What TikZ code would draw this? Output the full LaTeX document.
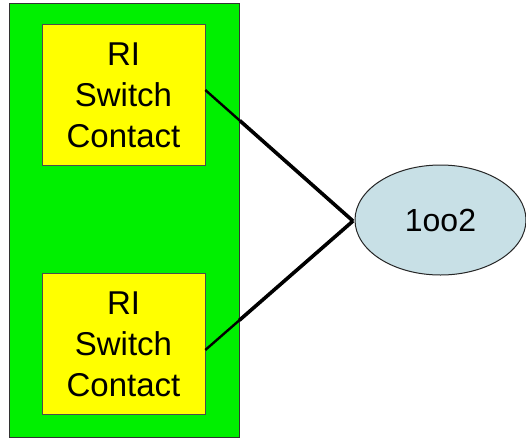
\documentclass[tikz,border=0pt]{standalone}
\usepackage{fontspec}
\setmainfont{Liberation Sans}
\usetikzlibrary{shapes.geometric,calc}
\begin{document}
\begin{tikzpicture}[x=1pt,y=-1pt,
  greenbox/.style={draw=black!80,line width=0.8pt,fill={rgb,255:red,0;green,240;blue,0}},
  ybox/.style={draw=black!70,line width=0.6pt,fill={rgb,255:red,255;green,255;blue,0},minimum width=163pt,minimum height=141pt,inner sep=0pt,align=center,font=\fontsize{33}{41}\selectfont},
  oval/.style={ellipse,draw=black!85,line width=1pt,fill={rgb,255:red,200;green,224;blue,230},minimum width=171pt,minimum height=110pt,inner sep=0pt,font=\fontsize{32}{37}\selectfont},
  wire/.style={line width=2.4pt,black},
  thickwire/.style={line width=3.6pt,black}]
\useasboundingbox (0,0) rectangle (526,439);
\fill[white] (0,0) rectangle (526,439);
\node[greenbox,minimum width=230pt,minimum height=434pt,inner sep=0pt] (grp) at (124,220) {};
\node[ybox] (top) at (123.5,95) {RI\\Switch\\Contact};
\node[ybox] (bot) at (123.5,344) {RI\\Switch\\Contact};
\node[oval] (v) at (440.5,220) {1oo2};
\coordinate (m) at (353,221);
\coordinate (a) at (top.east |- 0,90);
\coordinate (b) at (bot.east |- 0,350);
\draw[wire] (a) -- (m);
\draw[wire] (b) -- (m);
\draw[thickwire] ($(a)!0.235!(m)$) -- (m);
\draw[thickwire] ($(b)!0.23!(m)$) -- (m);
\end{tikzpicture}
\end{document}
